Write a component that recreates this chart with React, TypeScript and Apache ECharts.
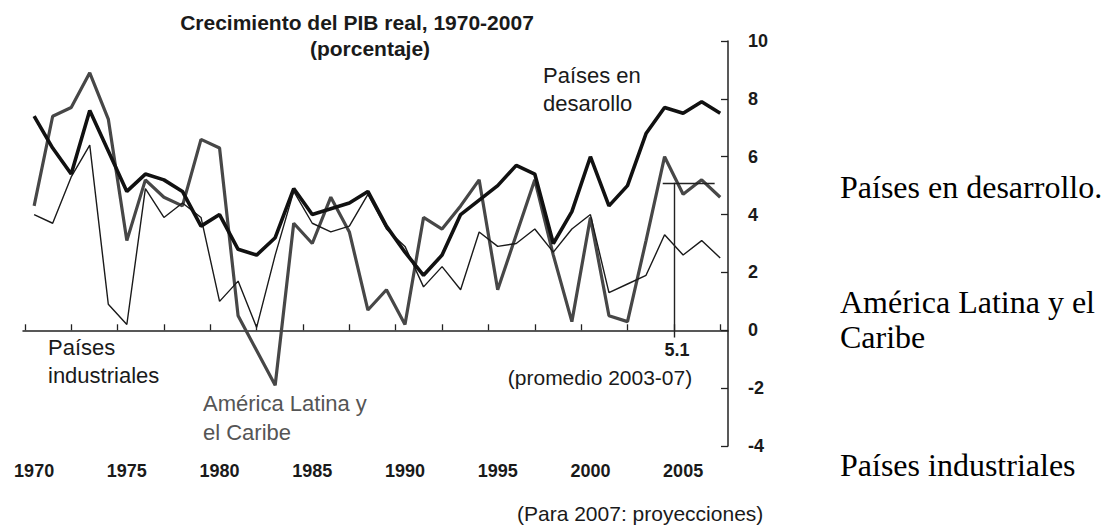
import React, { useEffect, useRef } from "react";
import * as echarts from "echarts";

const years = [
  1970, 1971, 1972, 1973, 1974, 1975, 1976, 1977, 1978, 1979,
  1980, 1981, 1982, 1983, 1984, 1985, 1986, 1987, 1988, 1989,
  1990, 1991, 1992, 1993, 1994, 1995, 1996, 1997, 1998, 1999,
  2000, 2001, 2002, 2003, 2004, 2005, 2006, 2007,
];

const developing = [
  7.4, 6.3, 5.4, 7.6, 6.2, 4.8, 5.4, 5.2, 4.8, 3.6,
  4.0, 2.8, 2.6, 3.2, 4.9, 4.0, 4.2, 4.4, 4.8, 3.6,
  2.7, 1.9, 2.6, 4.0, 4.5, 5.0, 5.7, 5.4, 3.0, 4.1,
  6.0, 4.3, 5.0, 6.8, 7.7, 7.5, 7.9, 7.5,
];

const latinAmerica = [
  4.3, 7.4, 7.7, 8.9, 7.3, 3.1, 5.2, 4.6, 4.3, 6.6,
  6.3, 0.5, -0.7, -1.9, 3.7, 3.0, 4.6, 3.4, 0.7, 1.4,
  0.2, 3.9, 3.5, 4.3, 5.2, 1.4, 3.3, 5.2, 2.6, 0.3,
  3.9, 0.5, 0.3, 3.1, 6.0, 4.7, 5.2, 4.6,
];

const industrial = [
  4.0, 3.7, 5.3, 6.4, 0.9, 0.2, 4.9, 3.9, 4.4, 3.9,
  1.0, 1.7, 0.1, 2.6, 4.8, 3.7, 3.4, 3.6, 4.7, 3.5,
  2.9, 1.5, 2.2, 1.4, 3.4, 2.9, 3.0, 3.5, 2.7, 3.5,
  4.0, 1.3, 1.6, 1.9, 3.3, 2.6, 3.1, 2.5,
];

const yearLabels = [1970, 1975, 1980, 1985, 1990, 1995, 2000, 2005];
const xTicks = [
  1969.5, 1972, 1974.5, 1977, 1979.5, 1982, 1984.5, 1987, 1989.5, 1992,
  1994.5, 1997, 1999.5, 2002, 2004.5, 2007,
];

const avgValue = 5.1;
const avgFrom = 2003.9;
const avgTo = 2006.7;
const avgMarkYear = 2004.5;
const avgMarkBottom = -0.25;

const SANS = "'Liberation Sans', Arial, Helvetica, sans-serif";
const SERIF = "'Liberation Serif', 'Times New Roman', serif";

function pairs(vals: number[]) {
  return years.map((y, i) => [y, vals[i]]);
}

export default function App() {
  const ref = useRef<HTMLDivElement>(null);

  useEffect(() => {
    if (!ref.current) return;
    const chart = echarts.init(ref.current, null, { renderer: "svg" });
    const txt = (
      text: string,
      x: number,
      y: number,
      size: number,
      opts: any = {}
    ) => ({
      type: "text",
      x,
      y,
      silent: true,
      style: {
        text,
        fontSize: size,
        fontFamily: opts.family || SANS,
        fontWeight: opts.weight || "normal",
        fill: opts.fill || "#1a1a1a",
        align: opts.align || "left",
        verticalAlign: "middle",
      },
    });

    chart.setOption({
      animation: false,
      backgroundColor: "#ffffff",
      grid: { left: 23, right: 375, top: 41, bottom: 81 },
      xAxis: [
        {
          type: "value",
          min: 1969.4,
          max: 2007.42,
          axisLine: { onZero: true, lineStyle: { color: "#222", width: 1.5 } },
          axisTick: {
            show: true,
            inside: true,
            length: 6,
            customValues: xTicks,
            lineStyle: { color: "#222", width: 1.3 },
          },
          axisLabel: { show: false },
          splitLine: { show: false },
        },
        {
          type: "value",
          min: 1969.4,
          max: 2007.42,
          position: "bottom",
          axisLine: { show: false, onZero: false },
          axisTick: { show: false },
          axisLabel: {
            customValues: yearLabels,
            formatter: (v: number) => String(v),
            fontFamily: SANS,
            fontWeight: "bold",
            fontSize: 18,
            color: "#1a1a1a",
            margin: 16,
          },
          splitLine: { show: false },
        },
      ],
      yAxis: {
        type: "value",
        position: "right",
        min: -4,
        max: 10,
        interval: 2,
        axisLine: {
          show: true,
          onZero: false,
          lineStyle: { color: "#222", width: 1.5 },
        },
        axisTick: {
          show: true,
          inside: true,
          length: 7,
          lineStyle: { color: "#222", width: 1.3 },
        },
        axisLabel: {
          fontFamily: SANS,
          fontWeight: "bold",
          fontSize: 18,
          color: "#1a1a1a",
          margin: 20,
        },
        splitLine: { show: false },
      },
      series: [
        {
          name: "América Latina y el Caribe",
          type: "line",
          data: pairs(latinAmerica),
          showSymbol: false,
          lineStyle: { color: "#474747", width: 3.2 },
          z: 2,
          markLine: {
            silent: true,
            symbol: "none",
            label: { show: false },
            lineStyle: { color: "#222", width: 1.4, type: "solid" },
            data: [
              [{ coord: [avgFrom, avgValue] }, { coord: [avgTo, avgValue] }],
              [
                { coord: [avgMarkYear, avgValue] },
                { coord: [avgMarkYear, avgMarkBottom] },
              ],
            ],
          },
        },
        {
          name: "Países industriales",
          type: "line",
          data: pairs(industrial),
          showSymbol: false,
          lineStyle: { color: "#1a1a1a", width: 1.4 },
          z: 3,
        },
        {
          name: "Países en desarrollo",
          type: "line",
          data: pairs(developing),
          showSymbol: false,
          lineStyle: { color: "#111", width: 3.6 },
          z: 4,
        },
      ],
      graphic: [
        txt("Crecimiento del PIB real, 1970-2007", 357, 22, 21, {
          weight: "bold",
          align: "center",
        }),
        txt("(porcentaje)", 370, 48, 21, { weight: "bold", align: "center" }),
        txt("Países en", 543, 75, 22),
        txt("desarollo", 543, 103, 22),
        txt("Países", 48, 347, 22),
        txt("industriales", 48, 375, 22),
        txt("América Latina y", 203, 403, 22, { fill: "#555" }),
        txt("el Caribe", 203, 432, 22, { fill: "#555" }),
        txt("5.1", 677, 350, 18, { weight: "bold", align: "center" }),
        txt("(promedio 2003-07)", 600, 377, 21, { align: "center" }),
        txt("(Para 2007: proyecciones)", 517, 513, 21),
        txt("Países en desarrollo.", 840, 187, 32, { family: SERIF, fill: "#000" }),
        txt("América Latina y el", 840, 302, 32, { family: SERIF, fill: "#000" }),
        txt("Caribe", 840, 337, 32, { family: SERIF, fill: "#000" }),
        txt("Países industriales", 840, 465, 32, { family: SERIF, fill: "#000" }),
      ],
    });

    return () => chart.dispose();
  }, []);

  return (
    <div
      ref={ref}
      style={{ position: "absolute", left: 0, top: 0, width: 1103, height: 527 }}
    />
  );
}
